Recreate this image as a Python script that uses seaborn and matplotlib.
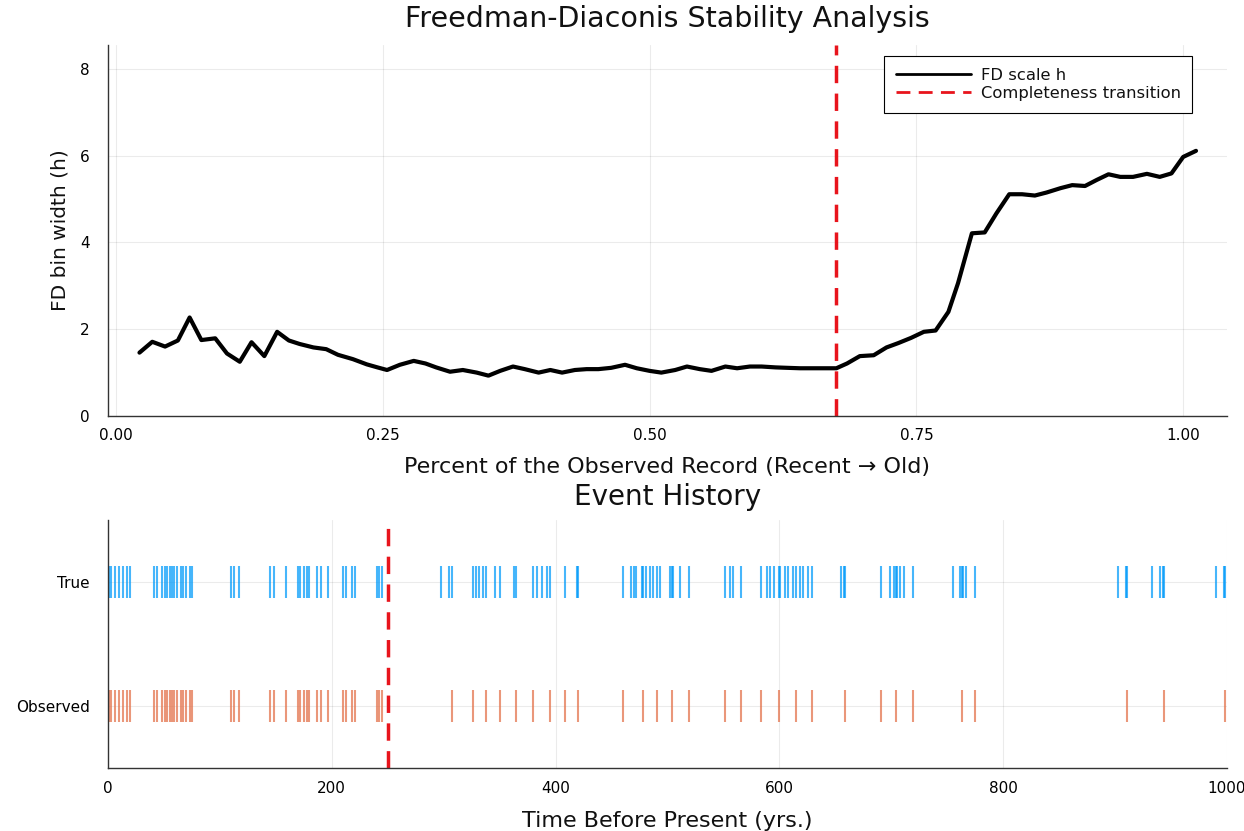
import matplotlib
matplotlib.use("Agg")
import matplotlib.pyplot as plt
import pandas as pd
import seaborn as sns

# FD scale vs fraction of record
frac = [0.022, 0.034, 0.046, 0.058, 0.069, 0.080, 0.093, 0.104, 0.116, 0.127,
        0.139, 0.151, 0.162, 0.172, 0.185, 0.197, 0.208, 0.222, 0.235, 0.245,
        0.254, 0.266, 0.279, 0.290, 0.300, 0.313, 0.325, 0.338, 0.349, 0.360,
        0.372, 0.383, 0.396, 0.407, 0.418, 0.430, 0.441, 0.452, 0.464, 0.477,
        0.488, 0.500, 0.511, 0.524, 0.535, 0.547, 0.558, 0.571, 0.582, 0.594,
        0.605, 0.618, 0.629, 0.641, 0.653, 0.664, 0.675, 0.685, 0.697, 0.710,
        0.722, 0.733, 0.745, 0.757, 0.768, 0.780, 0.789, 0.802, 0.814, 0.825,
        0.837, 0.849, 0.861, 0.872, 0.885, 0.896, 0.908, 0.919, 0.930, 0.941,
        0.953, 0.966, 0.978, 0.989, 1.000, 1.012]
fd_h = [1.46, 1.71, 1.60, 1.74, 2.27, 1.75, 1.79, 1.44, 1.25, 1.70,
        1.38, 1.94, 1.74, 1.66, 1.58, 1.54, 1.41, 1.31, 1.19, 1.12,
        1.06, 1.18, 1.27, 1.21, 1.12, 1.02, 1.06, 1.00, 0.93, 1.04,
        1.14, 1.08, 1.00, 1.06, 1.00, 1.06, 1.08, 1.08, 1.11, 1.18,
        1.10, 1.04, 1.00, 1.06, 1.14, 1.08, 1.04, 1.14, 1.10, 1.14,
        1.14, 1.12, 1.11, 1.10, 1.10, 1.10, 1.10, 1.21, 1.38, 1.40,
        1.58, 1.68, 1.80, 1.94, 1.97, 2.40, 3.06, 4.21, 4.23, 4.67,
        5.11, 5.11, 5.08, 5.15, 5.25, 5.32, 5.30, 5.44, 5.57, 5.51,
        5.51, 5.58, 5.51, 5.59, 5.97, 6.11]
transition_frac = 0.675

# event times (years before present)
recent_events = [1, 3, 6, 10, 13, 17, 20, 41, 44, 48, 51, 53, 55, 57, 59, 62,
                 65, 67, 70, 73, 75, 110, 113, 117, 145, 148, 159, 170, 172,
                 175, 178, 180, 187, 190, 197, 210, 213, 218, 221, 240, 242, 245]
true_old = [298, 305, 307, 326, 329, 332, 335, 338, 346, 350, 363, 365, 380,
            383, 388, 392, 395, 408, 419, 420, 460, 467, 470, 472, 477, 478,
            481, 484, 487, 491, 493, 502, 504, 505, 511, 519, 551, 556, 559,
            566, 584, 589, 592, 595, 600, 601, 605, 608, 612, 615, 618, 621,
            626, 629, 655, 658, 659, 691, 699, 702, 704, 705, 708, 711, 719,
            755, 761, 763, 764, 767, 775, 903, 910, 911, 933, 940, 943, 944,
            990, 997, 998]
observed_old = [307, 326, 338, 350, 365, 380, 395, 408, 420, 460, 478, 491,
                504, 519, 551, 566, 584, 600, 615, 629, 659, 691, 704, 719,
                763, 775, 911, 944, 998]
transition_year = 250
record_labels = ["Observed", "True"]

fd_df = pd.DataFrame({"frac": frac, "h": fd_h})
ev_df = pd.DataFrame({
    "time": recent_events + true_old + recent_events + observed_old,
    "record": ["True"] * (len(recent_events) + len(true_old))
              + ["Observed"] * (len(recent_events) + len(observed_old)),
})
ev_df["ypos"] = ev_df["record"].map({"Observed": 0, "True": 1})

sns.set_style("white")
plt.rcParams["font.family"] = ["DejaVu Sans"]
plt.rcParams["text.color"] = "#111111"
plt.rcParams["axes.labelcolor"] = "#111111"

fig = plt.figure(figsize=(12.44, 8.31), dpi=100)
ax1 = fig.add_axes([0.0868, 0.4994, 0.8995, 0.4465])
ax2 = fig.add_axes([0.0868, 0.0758, 0.8995, 0.2984])

grid_kw = dict(color="#000000", alpha=0.08, linewidth=0.8)

# ---- top: FD stability ----
sns.lineplot(data=fd_df, x="frac", y="h", ax=ax1, color="black", linewidth=3,
             label="FD scale h")
ax1.axvline(transition_frac, color="#e8141c", linestyle=(0, (5, 3)),
            linewidth=2.5, label="Completeness transition")
ax1.set_xlim(-0.0075, 1.041)
ax1.set_ylim(0, 8.55)
ax1.set_xticks([0, 0.25, 0.5, 0.75, 1.0])
ax1.set_xticklabels(["0.00", "0.25", "0.50", "0.75", "1.00"])
ax1.set_yticks([0, 2, 4, 6, 8])
ax1.grid(True, **grid_kw)
ax1.set_title("Freedman-Diaconis Stability Analysis", fontsize=20.5, pad=13)
ax1.set_xlabel("Percent of the Observed Record (Recent \u2192 Old)", fontsize=16,
               labelpad=10)
ax1.set_ylabel("FD bin width (h)", fontsize=14.5, labelpad=8)
leg = ax1.legend(loc="upper right", bbox_to_anchor=(0.969, 0.969),
                 borderaxespad=0, fontsize=11.8, handlelength=4.6,
                 handletextpad=0.6, labelspacing=0.2, borderpad=0.7,
                 fancybox=False, framealpha=1)
leg.get_frame().set_edgecolor("black")
leg.get_frame().set_linewidth(0.8)
for hl in leg.get_lines():
    hl.set_linewidth(2)

# ---- bottom: event history ----
sns.scatterplot(data=ev_df, x="time", y="ypos", hue="record",
                palette={"True": "#009afa", "Observed": "#e36f47"},
                marker="|", s=560, linewidth=1.5, alpha=0.72, legend=False, ax=ax2)
ax2.axvline(transition_year, color="#e8141c", linestyle=(0, (5, 3)), linewidth=2.5)
ax2.set_xlim(0, 1000)
ax2.set_ylim(-0.5, 1.5)
ax2.set_xticks([0, 200, 400, 600, 800, 1000])
ax2.set_yticks([0, 1])
ax2.set_yticklabels(record_labels)
ax2.grid(True, **grid_kw)
ax2.set_title("Event History", fontsize=20, pad=11)
ax2.set_xlabel("Time Before Present (yrs.)", fontsize=16, labelpad=11)
ax2.set_ylabel("")

for ax in (ax1, ax2):
    sns.despine(ax=ax)
    ax.tick_params(direction="in", length=4, width=0.8, labelsize=11,
                   colors="black")
    ax.tick_params(axis="x", pad=9)
    ax.tick_params(axis="y", pad=13)
    for side in ("left", "bottom"):
        ax.spines[side].set_color("#333333")
        ax.spines[side].set_linewidth(1.0)

fig.savefig("out.png", dpi=100)
